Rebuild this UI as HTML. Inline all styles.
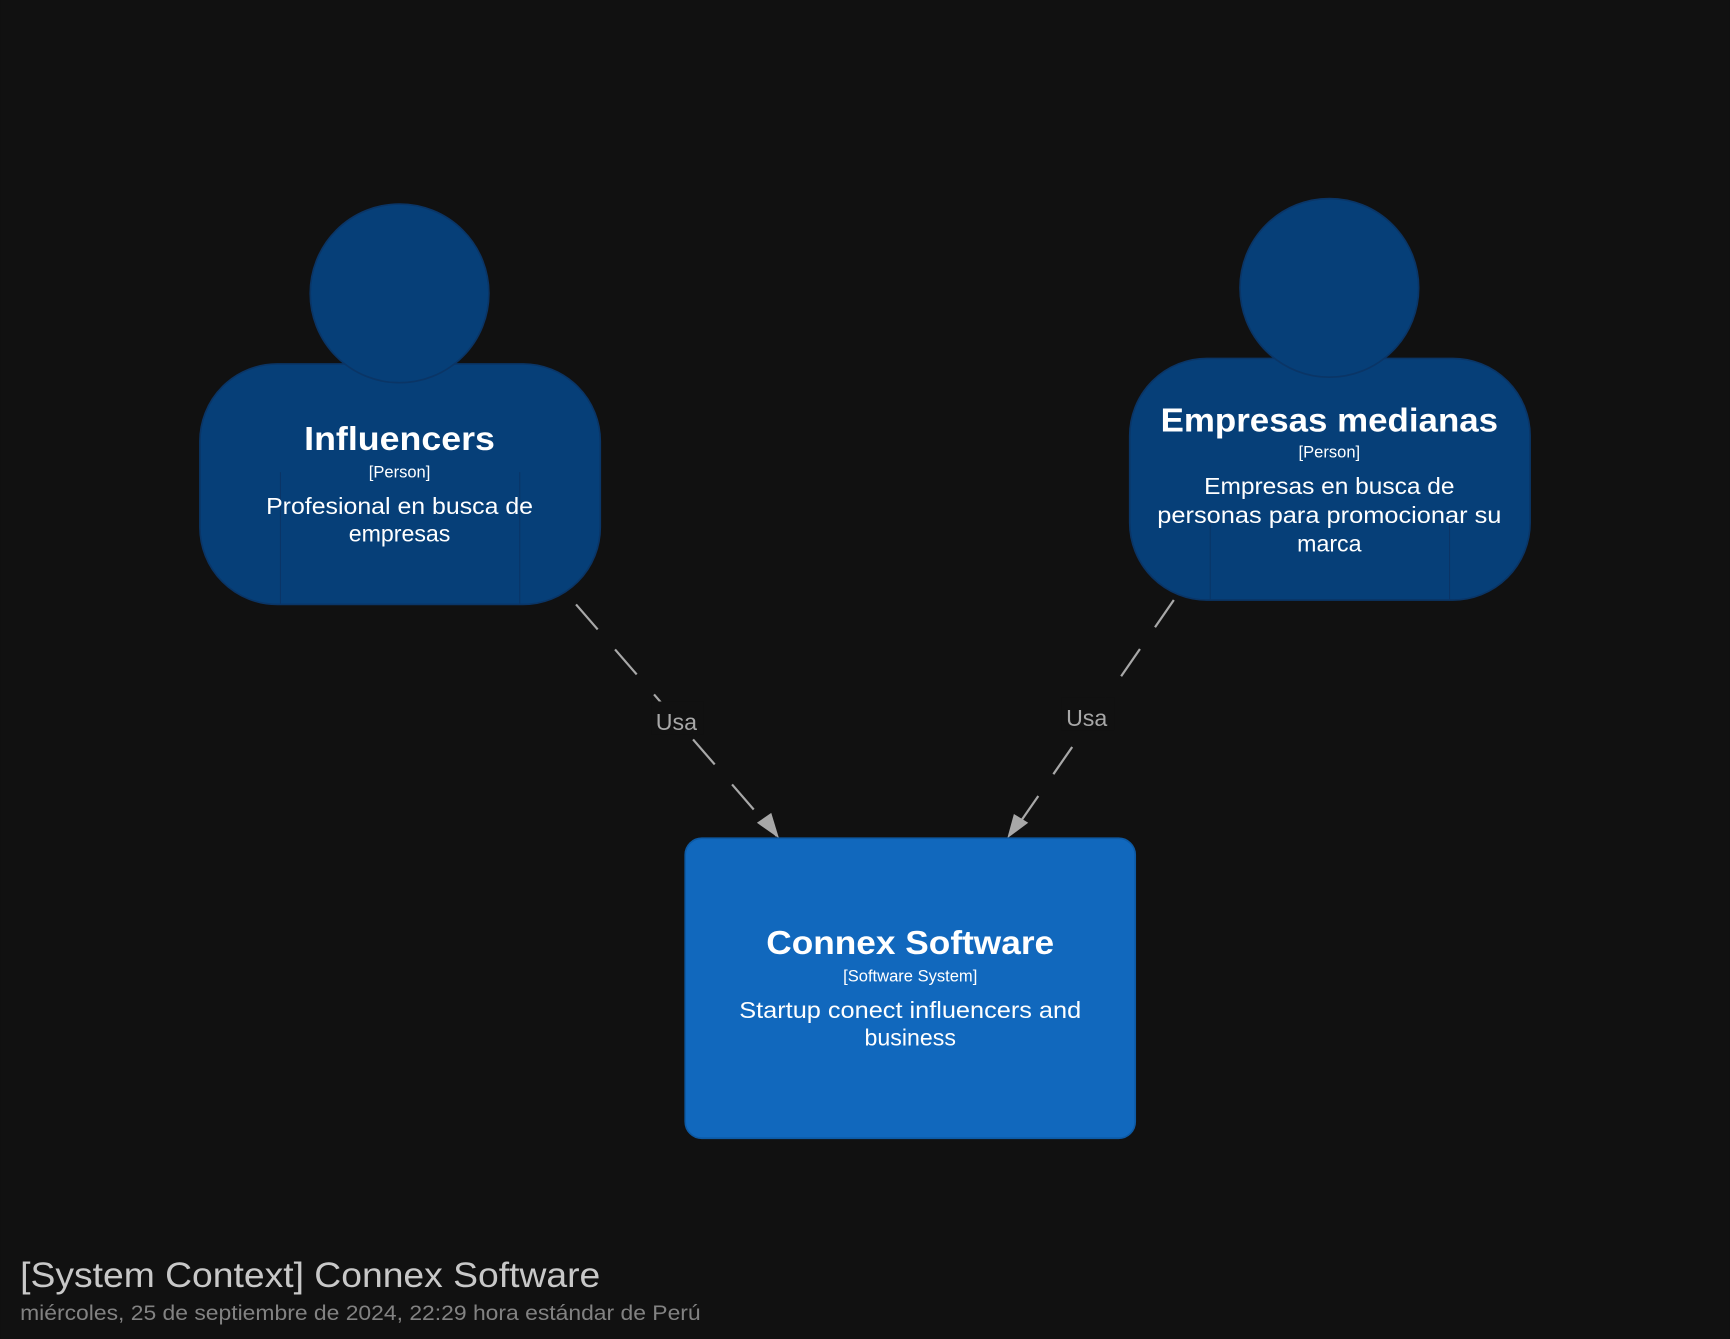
<!DOCTYPE html>
<html><head><meta charset="utf-8"><style>
html,body{margin:0;padding:0;background:#111111;}
svg{display:block}
text{font-family:"Liberation Sans",sans-serif;}
</style></head><body>
<svg width="1730" height="1339" viewBox="0 0 1568 1214" xmlns="http://www.w3.org/2000/svg">
<rect width="1568" height="1214" fill="#111111"/>
<!-- connectors -->
<line x1="522" y1="548" x2="704" y2="758" stroke="#a8a8a8" stroke-width="2" stroke-dasharray="30,24"/>
<path d="M686,746 L706,760 L699,737 z" fill="#a8a8a8"/>
<line x1="1064" y1="544" x2="916" y2="758" stroke="#a8a8a8" stroke-width="2" stroke-dasharray="30,24"/>
<path d="M913,760 L932,746 L919,738 z" fill="#a8a8a8"/>
<rect x="590" y="636" width="48" height="30" fill="#111111"/>
<text x="613" y="662" font-size="21" fill="#a8a8a8" text-anchor="middle">Usa</text>
<rect x="962" y="632" width="48" height="30" fill="#111111"/>
<text x="985" y="658" font-size="21" fill="#a8a8a8" text-anchor="middle">Usa</text>

<!-- Influencers -->
<rect x="181" y="330" width="363" height="218" rx="70" fill="#063f78" stroke="#0a3566" stroke-width="1.5"/>
<circle cx="362" cy="266" r="81" fill="#063f78" stroke="#0a3566" stroke-width="1.5"/>
<line x1="254" y1="428" x2="254" y2="548" stroke="#0a3566"/>
<line x1="471" y1="428" x2="471" y2="548" stroke="#0a3566"/>
<text x="362" y="408" font-size="30" font-weight="bold" fill="#fff" text-anchor="middle" textLength="173" lengthAdjust="spacingAndGlyphs">Influencers</text>
<text x="362" y="433" font-size="15" fill="#fff" text-anchor="middle">[Person]</text>
<text x="362" y="466" font-size="21" fill="#fff" text-anchor="middle" textLength="242" lengthAdjust="spacingAndGlyphs">Profesional en busca de</text>
<text x="362" y="491" font-size="21" fill="#fff" text-anchor="middle">empresas</text>

<!-- Empresas -->
<rect x="1024" y="325" width="363" height="219" rx="70" fill="#063f78" stroke="#0a3566" stroke-width="1.5"/>
<circle cx="1205" cy="261" r="81" fill="#063f78" stroke="#0a3566" stroke-width="1.5"/>
<line x1="1097" y1="470" x2="1097" y2="544" stroke="#0a3566"/>
<line x1="1314" y1="470" x2="1314" y2="544" stroke="#0a3566"/>
<text x="1205" y="391" font-size="30" font-weight="bold" fill="#fff" text-anchor="middle" textLength="306" lengthAdjust="spacingAndGlyphs">Empresas medianas</text>
<text x="1205" y="415" font-size="15" fill="#fff" text-anchor="middle">[Person]</text>
<text x="1205" y="448" font-size="21" fill="#fff" text-anchor="middle" textLength="227" lengthAdjust="spacingAndGlyphs">Empresas en busca de</text>
<text x="1205" y="474" font-size="21" fill="#fff" text-anchor="middle" textLength="312" lengthAdjust="spacingAndGlyphs">personas para promocionar su</text>
<text x="1205" y="500" font-size="21" fill="#fff" text-anchor="middle">marca</text>

<!-- Software -->
<rect x="621" y="760" width="408" height="272" rx="15" fill="#1168bd" stroke="#0d5aa5" stroke-width="1.5"/>
<text x="825" y="865" font-size="30" font-weight="bold" fill="#fff" text-anchor="middle" textLength="261" lengthAdjust="spacingAndGlyphs">Connex Software</text>
<text x="825" y="890" font-size="15" fill="#fff" text-anchor="middle">[Software System]</text>
<text x="825" y="923" font-size="21" fill="#fff" text-anchor="middle" textLength="310" lengthAdjust="spacingAndGlyphs">Startup conect influencers and</text>
<text x="825" y="948" font-size="21" fill="#fff" text-anchor="middle">business</text>

<!-- footer -->
<text x="18" y="1167" font-size="32" fill="#c8c8c8" textLength="526" lengthAdjust="spacingAndGlyphs">[System Context] Connex Software</text>
<text x="18" y="1197" font-size="19" fill="#828282" textLength="617" lengthAdjust="spacingAndGlyphs">miércoles, 25 de septiembre de 2024, 22:29 hora estándar de Perú</text>
</svg>
</body></html>
